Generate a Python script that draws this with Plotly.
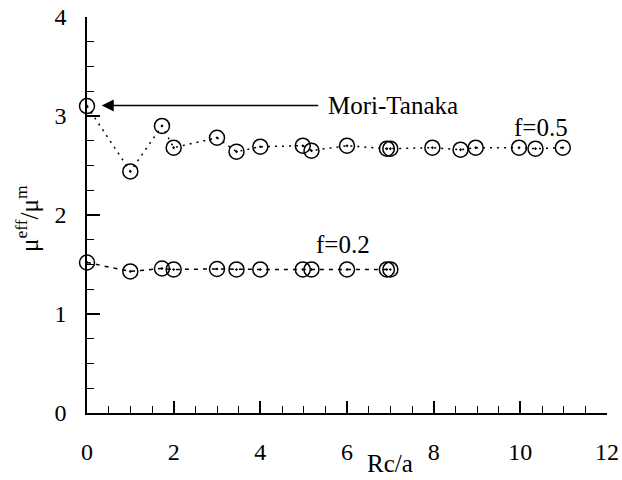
import plotly.graph_objects as go

# Data
x_f05 = [0, 1, 1.73, 2, 3, 3.45, 4, 4.98, 5.18, 6, 6.92, 7, 7.97, 8.62, 8.97, 9.97, 10.35, 10.98]
y_f05 = [3.10, 2.44, 2.90, 2.68, 2.78, 2.64, 2.69, 2.70, 2.65, 2.70, 2.67, 2.67, 2.68, 2.66, 2.68, 2.68, 2.67, 2.68]
x_f02 = [0, 1, 1.73, 2, 3, 3.45, 4, 4.98, 5.18, 6, 6.92, 7]
y_f02 = [1.52, 1.43, 1.46, 1.45, 1.455, 1.45, 1.45, 1.45, 1.45, 1.45, 1.45, 1.45]
x_ticks = [0, 2, 4, 6, 8, 10, 12]
y_ticks = [0, 1, 2, 3, 4]

FONT = "Liberation Serif"

fig = go.Figure()
marker = dict(symbol="circle-open-dot", size=15, color="black", line=dict(width=1.5, color="black"))
fig.add_trace(go.Scatter(x=x_f05, y=y_f05, mode="lines+markers", marker=marker,
                         line=dict(color="black", width=1.5, dash="2px,5px"), cliponaxis=False,
                         showlegend=False))
fig.add_trace(go.Scatter(x=x_f02, y=y_f02, mode="lines+markers", marker=marker,
                         line=dict(color="black", width=1.5, dash="4px,5px"), cliponaxis=False,
                         showlegend=False))

axis_common = dict(showgrid=False, zeroline=False, showline=True, linecolor="black", linewidth=1.5,
                   ticks="inside", tickcolor="black", tickwidth=1.5, automargin=False,
                   tickfont=dict(family=FONT, size=24, color="black"))
fig.update_xaxes(range=[0, 12], tickvals=x_ticks, ticklen=12, ticklabelstandoff=16,
                 minor=dict(dtick=0.5, ticks="inside", ticklen=7, tickcolor="black", tickwidth=1.2),
                 **axis_common)
fig.update_yaxes(range=[0, 4], tickvals=y_ticks, ticklen=13, ticklabelstandoff=14,
                 minor=dict(dtick=0.25, ticks="inside", ticklen=7, tickcolor="black", tickwidth=1.2),
                 **axis_common)

ann_font = dict(family=FONT, size=25, color="black")
fig.add_annotation(x=0.34, y=3.107, ax=291, ay=0, text="Mori-Tanaka", showarrow=True,
                   font=ann_font, borderpad=9,
                   arrowhead=2, arrowsize=1.6, arrowwidth=1.5, arrowcolor="black")
fig.add_annotation(x=10.47, y=2.88, text="f=0.5", showarrow=False, font=ann_font)
fig.add_annotation(x=5.9, y=1.70, text="f=0.2", showarrow=False, font=ann_font)
fig.add_annotation(xref="paper", yref="paper", x=0.582, y=-0.1275, text="Rc/a",
                   xanchor="center", yanchor="middle", borderpad=0, showarrow=False,
                   font=ann_font)
fig.add_annotation(xref="paper", yref="paper", x=-0.1154, y=0.4925,
                   text="μ<sup>eff</sup>/μ<sup>m</sup>", textangle=-90,
                   xanchor="center", yanchor="middle", showarrow=False, font=ann_font)

fig.update_layout(width=622, height=480, margin=dict(l=87, r=15, t=17, b=67),
                  plot_bgcolor="white", paper_bgcolor="white", font=dict(family=FONT))
fig.write_html("out.html")
